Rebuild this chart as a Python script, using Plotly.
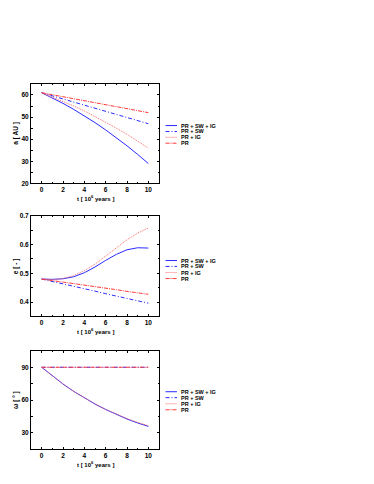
import plotly.graph_objects as go

t = [0, 1, 2, 3, 4, 5, 6, 7, 8, 9, 10]
labels = ["PR + SW + IG", "PR + SW", "PR + IG", "PR"]

# panel 1: semi-major axis a [AU]
a_pr_sw_ig = [61.0, 58.7, 56.2, 53.5, 50.6, 47.5, 44.2, 40.7, 37.0, 33.1, 29.0]
a_pr_sw = [61.0, 59.6, 58.2, 56.8, 55.4, 54.0, 52.6, 51.2, 49.8, 48.4, 47.0]
a_pr_ig = [61.0, 59.1, 57.2, 55.0, 52.8, 50.3, 47.7, 45.0, 42.2, 39.2, 36.0]
a_pr = [61.0, 60.1, 59.2, 58.3, 57.4, 56.5, 55.6, 54.7, 53.8, 52.9, 52.0]

# panel 2: eccentricity e [-]
e_pr_sw_ig = [0.480, 0.479, 0.481, 0.488, 0.502, 0.522, 0.545, 0.566, 0.582, 0.589, 0.588]
e_pr_sw = [0.480, 0.472, 0.463, 0.455, 0.446, 0.438, 0.429, 0.421, 0.412, 0.404, 0.396]
e_pr_ig = [0.480, 0.478, 0.482, 0.492, 0.509, 0.532, 0.560, 0.590, 0.617, 0.640, 0.658]
e_pr = [0.480, 0.475, 0.469, 0.464, 0.459, 0.453, 0.448, 0.443, 0.437, 0.432, 0.427]

# panel 3: omega [deg]
w_pr_sw_ig = [90.0, 82.0, 74.7, 68.0, 61.9, 56.4, 51.4, 46.8, 42.7, 39.1, 36.0]
w_pr_sw = [90.0, 90.0, 90.0, 90.0, 90.0, 90.0, 90.0, 90.0, 90.0, 90.0, 90.0]
w_pr_ig = [90.0, 82.0, 74.7, 68.0, 61.9, 56.5, 51.6, 47.1, 43.1, 39.6, 36.6]
w_pr = [90.0, 90.0, 90.0, 90.0, 90.0, 90.0, 90.0, 90.0, 90.0, 90.0, 90.0]

x_ticks = [0, 2, 4, 6, 8, 10]

BLUE = "#2a2aff"
RED = "#ff3a3a"
styles = [
    dict(color=BLUE, dash="solid", width=1),
    dict(color=BLUE, dash="4px,2px,1px,2px", width=1),
    dict(color="#ff6a6a", dash="1px,1px", width=1),
    dict(color=RED, dash="4px,1px,1px,1px", width=1),
]

# page offset (body margin) and figure size
OFF = 8
W, H = 374 - 2 * OFF, 484 - 2 * OFF


def px2x(px):
    return (px - OFF) / W


def px2y(py):
    return 1 - (py - OFF) / H


panels = [
    dict(series=[a_pr_sw_ig, a_pr_sw, a_pr_ig, a_pr], yrange=[20, 65], dtick=10,
         ytitle="a [ AU ]", ypx=[81, 182], leg_rows=[123.3, 129.3, 135.2, 141.2]),
    dict(series=[e_pr_sw_ig, e_pr_sw, e_pr_ig, e_pr], yrange=[0.35, 0.7], dtick=0.1,
         ytitle="e [ - ]", ypx=[215, 317], leg_rows=[260.3, 266.3, 272.5, 278.6]),
    dict(series=[w_pr_sw_ig, w_pr_sw, w_pr_ig, w_pr], yrange=[15, 105], dtick=30,
         ytitle="ω [ ° ]", ypx=[352, 452], leg_rows=[393.5, 399.5, 405.7, 411.8]),
]

fig = go.Figure()
FONT = "Liberation Sans, Arial"
tickfont = dict(family=FONT, size=6.5, color="black")
shapes = []
annotations = []
xdom = [px2x(31), px2x(159)]

for i, p in enumerate(panels):
    n = "" if i == 0 else str(i + 1)
    for s, lab, st in zip(p["series"], labels, styles):
        fig.add_trace(go.Scatter(x=t, y=s, mode="lines", line=st, name=lab,
                                 xaxis="x" + n, yaxis="y" + n, showlegend=False))
    axcommon = dict(showline=True, linecolor="black", linewidth=1, mirror="ticks",
                    ticks="inside", ticklen=2, tickcolor="black", showgrid=False,
                    zeroline=False, tickfont=tickfont)
    ydom = [px2y(p["ypx"][1]), px2y(p["ypx"][0])]
    fig.layout["xaxis" + n] = dict(domain=xdom, range=[-1, 11], tickvals=x_ticks,
                                   ticktext=[f"<b>{v}</b>" for v in x_ticks],
                                   minor=dict(dtick=1, ticks="inside", ticklen=1.5, tickcolor="black"),
                                   anchor="y" + n, **axcommon)
    ytv = []
    v = p["yrange"][0]
    k = 0
    ylo, yhi, dt = p["yrange"][0], p["yrange"][1], p["dtick"]
    import math
    start = math.ceil(ylo / dt - 1e-9) * dt
    while start <= yhi + 1e-9:
        ytv.append(round(start, 6))
        start += dt
    fmt = (lambda x: f"{x:.1f}") if i == 1 else (lambda x: f"{int(round(x))}")
    fig.layout["yaxis" + n] = dict(domain=ydom, range=p["yrange"], tickvals=ytv,
                                   ticktext=[f"<b>{fmt(x)}</b>" for x in ytv],
                                   minor=dict(dtick=dt / 2, ticks="inside", ticklen=1.5, tickcolor="black"),
                                   anchor="x" + n, **axcommon)
    # axis titles
    annotations.append(dict(text="<b>t [ 10<sup>6</sup> years ]</b>", xref="paper", yref="paper",
                            x=(xdom[0] + xdom[1]) / 2, y=px2y(p["ypx"][1] + 15), xanchor="center",
                            yanchor="middle", showarrow=False,
                            font=dict(family=FONT, size=6, color="black")))
    annotations.append(dict(text="<b>" + p["ytitle"] + "</b>", xref="paper", yref="paper",
                            x=px2x(16), y=(ydom[0] + ydom[1]) / 2, textangle=-90,
                            xanchor="center", yanchor="middle", showarrow=False,
                            font=dict(family=FONT, size=6.5, color="black")))
    # legend (samples + labels)
    for row, lab, st in zip(p["leg_rows"], labels, styles):
        yy = px2y(row)
        shapes.append(dict(type="line", xref="paper", yref="paper", x0=px2x(165.5), x1=px2x(177),
                           y0=yy, y1=yy, line=dict(color=st["color"], dash=st["dash"], width=1)))
        annotations.append(dict(text="<b>" + lab + "</b>", xref="paper", yref="paper",
                                x=px2x(178.5), y=yy, xanchor="left", yanchor="middle", showarrow=False,
                                font=dict(family=FONT, size=5.5, color="black")))

fig.update_layout(width=W, height=H, margin=dict(l=0, r=0, t=0, b=0),
                  paper_bgcolor="white", plot_bgcolor="white",
                  shapes=shapes, annotations=annotations, showlegend=False)
fig.write_html("out.html")
